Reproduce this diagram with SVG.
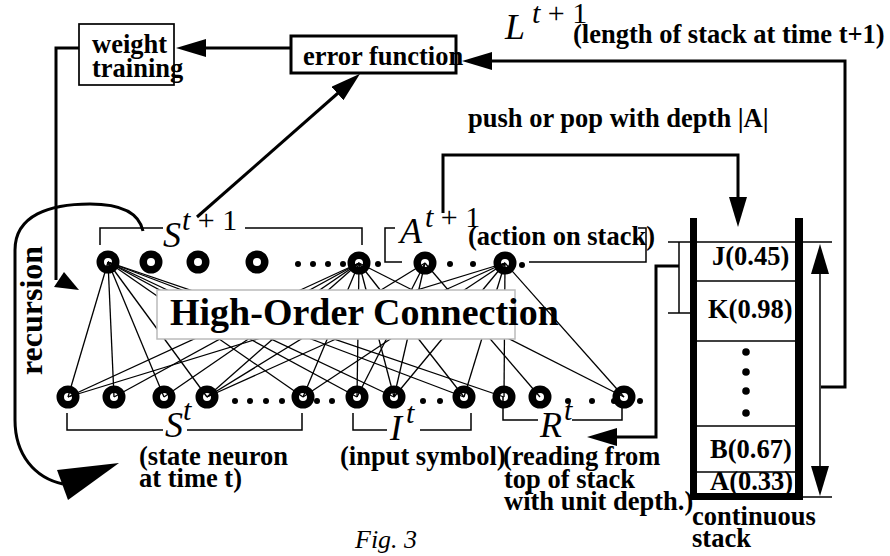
<svg xmlns="http://www.w3.org/2000/svg" width="890" height="556" viewBox="0 0 890 556">
<style>
.lbl{font-family:"Liberation Serif","Times New Roman",serif;font-weight:bold;font-size:26.5px;fill:#000}
.big{font-family:"Liberation Serif","Times New Roman",serif;font-weight:bold;font-size:38px;fill:#000}
.rec{font-family:"Liberation Serif","Times New Roman",serif;font-weight:bold;font-size:32px;fill:#000}
.math{font-family:"Liberation Serif","Times New Roman",serif;font-style:italic;font-size:36px;fill:#000}
.sup{font-family:"Liberation Serif","Times New Roman",serif;font-size:30px;fill:#000}
.fig{font-family:"Liberation Serif","Times New Roman",serif;font-style:italic;font-size:26px;fill:#000}
.thick{stroke:#000;stroke-width:3;fill:none}
.thin{stroke:#000;stroke-width:1.5;fill:none}
.conn line{stroke:#000;stroke-width:1.3}
.neuron{fill:none;stroke:#000;stroke-width:7.5}
.dot{fill:#000}
.wall{fill:#000}
</style>
<defs>
<marker id="ah" viewBox="0 0 30 18" markerWidth="30" markerHeight="18" refX="22" refY="9" orient="auto-start-reverse" markerUnits="userSpaceOnUse">
<path d="M0,0 L30,9 L0,18 z" fill="#000"/>
</marker>
</defs>
<rect width="890" height="556" fill="#fff"/>

<!-- high-order connections -->
<g id="connections" class="conn">
<line x1="108" y1="262" x2="68" y2="397"/>
<line x1="108" y1="262" x2="114" y2="397"/>
<line x1="108" y1="262" x2="164" y2="397"/>
<line x1="108" y1="262" x2="207" y2="397"/>
<line x1="108" y1="262" x2="303" y2="397"/>
<line x1="108" y1="262" x2="357" y2="397"/>
<line x1="108" y1="262" x2="394" y2="397"/>
<line x1="108" y1="262" x2="464" y2="397"/>
<line x1="108" y1="262" x2="504" y2="397"/>
<line x1="359" y1="263" x2="68" y2="397"/>
<line x1="359" y1="263" x2="114" y2="397"/>
<line x1="359" y1="263" x2="164" y2="397"/>
<line x1="359" y1="263" x2="207" y2="397"/>
<line x1="359" y1="263" x2="303" y2="397"/>
<line x1="359" y1="263" x2="357" y2="397"/>
<line x1="359" y1="263" x2="394" y2="397"/>
<line x1="359" y1="263" x2="464" y2="397"/>
<line x1="359" y1="263" x2="624" y2="397"/>
<line x1="425" y1="263" x2="207" y2="397"/>
<line x1="425" y1="263" x2="357" y2="397"/>
<line x1="425" y1="263" x2="394" y2="397"/>
<line x1="425" y1="263" x2="540" y2="397"/>
<line x1="505" y1="263" x2="68" y2="397"/>
<line x1="505" y1="263" x2="207" y2="397"/>
<line x1="505" y1="263" x2="303" y2="397"/>
<line x1="505" y1="263" x2="394" y2="397"/>
<line x1="505" y1="263" x2="464" y2="397"/>
<line x1="505" y1="263" x2="504" y2="397"/>
<line x1="505" y1="263" x2="624" y2="397"/>
</g>

<g id="hoc">
<rect x="157" y="290" width="358" height="49" fill="#fff" stroke="#bbb" stroke-width="1.5"/>
<text class="big" x="170" y="325">High-Order Connection</text>
</g>

<!-- arrows / flow connectors -->
<g id="arrows">
<line class="thick" x1="291" y1="48" x2="184" y2="48" marker-end="url(#ah)"/>
<polyline class="thick" points="79,48 56,48 56,280"/>
<polygon points="79,290 54,287 64,272" fill="#000"/>
<line class="thick" x1="197" y1="217" x2="354" y2="79" marker-end="url(#ah)"/>
<polyline class="thick" points="821,387 845,387 845,61 470,61" marker-end="url(#ah)"/>
<polyline class="thick" points="443,213 443,155 738,155 738,219" marker-end="url(#ah)"/>
<polyline class="thick" points="679,266 656,266 656,437 595,437" marker-end="url(#ah)"/>
<path class="thick" d="M143,231 C138,208 112,204 90,204 C50,204 15,215 15,250 L15,420 C15,455 35,478 63,484"/>
<polygon points="119,463 57,470 68,500" fill="#000"/>
<line class="thin" x1="820" y1="252" x2="820" y2="488" marker-start="url(#ah)" marker-end="url(#ah)"/>
</g>

<!-- brackets -->
<g id="brackets" class="thin">
<polyline points="100,245 100,228 163,228"/>
<polyline points="245,228 362,228 362,245"/>
<polyline points="395,228 385,228 385,262 402,262"/>
<polyline points="529,262 646,262 646,228 638,228"/>
<polyline points="67,413 67,430 163,430"/>
<polyline points="187,430 302,430 302,413"/>
<polyline points="353,413 353,430 387,430"/>
<polyline points="420,430 471,430 471,413"/>
<polyline points="503,397 503,420 538,420"/>
<polyline points="572,420 622,420 622,408"/>
<line x1="668" y1="242" x2="832" y2="242"/>
<line x1="668" y1="313" x2="690" y2="313"/>
<line x1="679" y1="242" x2="679" y2="313"/>
<line x1="797" y1="497" x2="832" y2="497"/>
</g>

<g id="weight-training">
<rect x="79" y="24" width="95" height="61" fill="none" stroke="#000" stroke-width="1.7"/>
<text class="lbl" x="92" y="53">weight</text>
<text class="lbl" x="92" y="77">training</text>
</g>

<g id="error-function">
<rect x="291" y="36" width="165" height="37" fill="none" stroke="#000" stroke-width="3"/>
<text class="lbl" x="303" y="65">error function</text>
</g>

<g id="stack">
<line class="thin" x1="697" y1="281" x2="795" y2="281"/>
<line class="thin" x1="697" y1="341" x2="795" y2="341"/>
<line class="thin" x1="697" y1="426" x2="795" y2="426"/>
<line class="thin" x1="697" y1="472" x2="795" y2="472"/>
<rect class="wall" x="690" y="218" width="7" height="282"/>
<rect class="wall" x="795" y="218" width="8" height="282"/>
<rect class="wall" x="690" y="493" width="113" height="7"/>
<text class="lbl" x="712" y="265">J(0.45)</text>
<text class="lbl" x="708" y="318">K(0.98)</text>
<circle class="dot" cx="746" cy="352" r="3.8"/>
<circle class="dot" cx="746" cy="372" r="3.8"/>
<circle class="dot" cx="746" cy="391" r="3.8"/>
<circle class="dot" cx="746" cy="413" r="3.8"/>
<text class="lbl" x="710" y="458">B(0.67)</text>
<text class="lbl" x="710" y="490">A(0.33)</text>
<text class="lbl" x="692" y="525">continuous</text>
<text class="lbl" x="692" y="547">stack</text>
</g>

<!-- top row neurons -->
<g id="s1"><circle class="neuron" cx="108" cy="262" r="7.75"/></g>
<g id="s2"><circle class="neuron" cx="151" cy="262" r="7.75"/></g>
<g id="s3"><circle class="neuron" cx="198" cy="262" r="7.75"/></g>
<g id="s4"><circle class="neuron" cx="257" cy="262" r="7.75"/></g>
<g id="s5"><circle class="neuron" cx="359" cy="263" r="7.75"/></g>
<g id="a1"><circle class="neuron" cx="425" cy="263" r="7.75"/></g>
<g id="a2"><circle class="neuron" cx="505" cy="263" r="7.75"/></g>
<g id="top-dots">
<circle class="dot" cx="298" cy="264" r="3"/>
<circle class="dot" cx="313" cy="264" r="3"/>
<circle class="dot" cx="328" cy="264" r="3"/>
<circle class="dot" cx="343" cy="264" r="3"/>
<circle class="dot" cx="378" cy="264" r="3"/>
<circle class="dot" cx="450" cy="264" r="3"/>
<circle class="dot" cx="473" cy="264" r="3"/>
<circle class="dot" cx="522" cy="265" r="3"/>
</g>

<!-- bottom row neurons -->
<g id="st1"><circle class="neuron" cx="68" cy="397" r="7.75"/></g>
<g id="st2"><circle class="neuron" cx="114" cy="397" r="7.75"/></g>
<g id="st3"><circle class="neuron" cx="164" cy="397" r="7.75"/></g>
<g id="st4"><circle class="neuron" cx="207" cy="397" r="7.75"/></g>
<g id="st5"><circle class="neuron" cx="303" cy="397" r="7.75"/></g>
<g id="i1"><circle class="neuron" cx="357" cy="397" r="7.75"/></g>
<g id="i2"><circle class="neuron" cx="394" cy="397" r="7.75"/></g>
<g id="i3"><circle class="neuron" cx="464" cy="397" r="7.75"/></g>
<g id="r1"><circle class="neuron" cx="504" cy="397" r="7.75"/></g>
<g id="r2"><circle class="neuron" cx="540" cy="397" r="7.75"/></g>
<g id="r3"><circle class="neuron" cx="624" cy="397" r="7.75"/></g>
<g id="bottom-dots">
<circle class="dot" cx="235" cy="401" r="3"/>
<circle class="dot" cx="250" cy="401" r="3"/>
<circle class="dot" cx="266" cy="401" r="3"/>
<circle class="dot" cx="282" cy="401" r="3"/>
<circle class="dot" cx="317" cy="401" r="3"/>
<circle class="dot" cx="332" cy="401" r="3"/>
<circle class="dot" cx="423" cy="401" r="3"/>
<circle class="dot" cx="440" cy="401" r="3"/>
<circle class="dot" cx="568" cy="401" r="3"/>
<circle class="dot" cx="592" cy="401" r="3"/>
<circle class="dot" cx="614" cy="401" r="3"/>
<circle class="dot" cx="640" cy="401" r="3"/>
</g>

<!-- labels -->
<g id="labels">
<text class="math" x="163" y="247">S</text>
<text class="sup" x="182" y="230"><tspan font-style="italic">t</tspan> + 1</text>
<text class="math" x="400" y="243">A</text>
<text class="sup" x="425" y="227"><tspan font-style="italic">t</tspan> + 1</text>
<text class="math" x="505" y="39" font-size="38">L</text>
<text class="sup" x="532" y="23"><tspan font-style="italic">t</tspan> + 1</text>
<text class="lbl" x="573" y="43">(length of stack at time t+1)</text>
<text class="lbl" x="468" y="127">push or pop with depth |A|</text>
<text class="lbl" x="468" y="245">(action on stack)</text>
<text class="math" x="165" y="437">S</text>
<text class="sup" x="183" y="420" font-style="italic">t</text>
<text class="math" x="390" y="440">I</text>
<text class="sup" x="406" y="423" font-style="italic">t</text>
<text class="math" x="540" y="437">R</text>
<text class="sup" x="564" y="420" font-style="italic">t</text>
<text class="lbl" x="139" y="465">(state neuron</text>
<text class="lbl" x="139" y="487">at time t)</text>
<text class="lbl" x="340" y="465">(input symbol)</text>
<text class="lbl" x="503" y="465">(reading from</text>
<text class="lbl" x="504" y="488">top of stack</text>
<text class="lbl" x="504" y="510">with unit depth.)</text>
<text class="rec" transform="translate(42,375) rotate(-90)" x="0" y="0">recursion</text>
<text class="fig" x="355" y="548">Fig. 3</text>
</g>
</svg>
